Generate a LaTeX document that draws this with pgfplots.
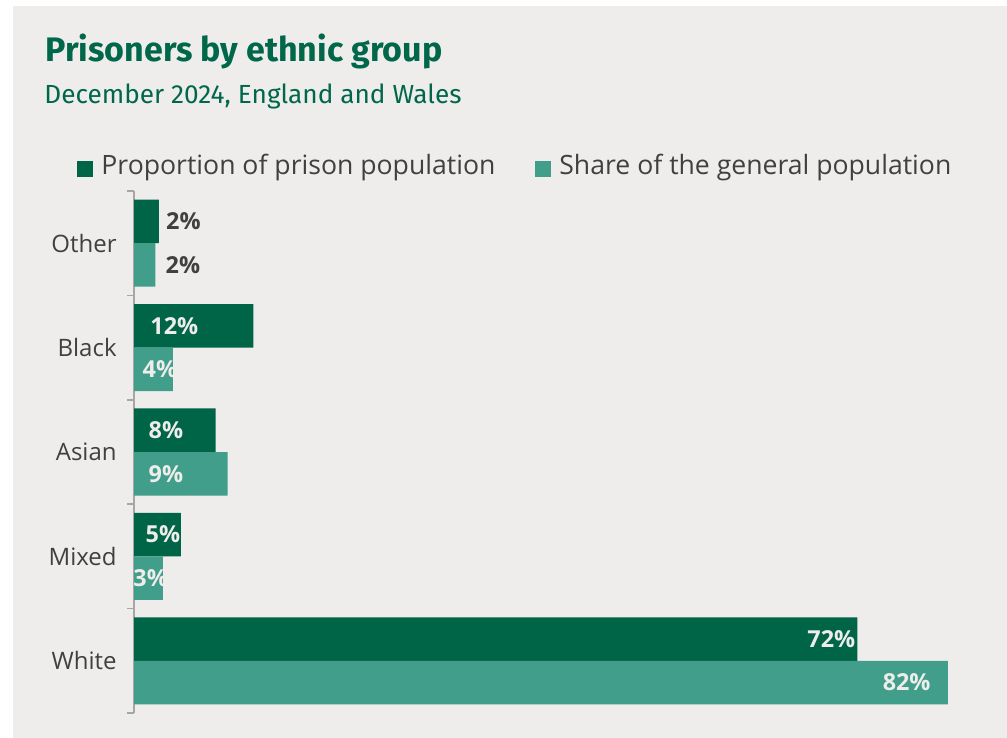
\documentclass[border=0pt]{standalone}
\usepackage{pgfplots}
\pgfplotsset{compat=1.18}
\usepackage{pgfplotstable}
\usepackage{fontspec}
\setmainfont{Open Sans}
\newfontfamily\titlefont{Fira Sans}
\definecolor{bgc}{HTML}{EEEDEB}
\definecolor{prison}{HTML}{006446}
\definecolor{general}{HTML}{419E8A}
\definecolor{titlegreen}{HTML}{00674A}
\definecolor{textgray}{HTML}{404040}
\definecolor{axisgray}{HTML}{A6A6A6}

% bar values (y: 0=White ... 4=Other)
\pgfplotstableread{
y x
4 2.5
3 12.0
2 8.2
1 4.7
0 72.7
}\prisontab
\pgfplotstableread{
y x
4 2.15
3 3.9
2 9.4
1 2.9
0 81.8
}\generaltab
% label positions (data units) and texts
\pgfplotstableread{
y x lab
4.2085 3.19 2
3.7915 3.15 2
}\labdark
\pgfplotstableread{
y x lab
3.2085 1.61 12
2.7915 0.83 4
2.2085 1.44 8
1.7915 1.44 9
1.2085 1.14 5
0.7915 -0.10 3
}\lablightw
\pgfplotstableread{
y x lab
0.2085 72.53 72
-0.2085 80.10 82
}\lablighte

\begin{document}
\begin{tikzpicture}
\useasboundingbox (0pt,0pt) rectangle (503.5pt,-369pt);
\fill[white] (0pt,0pt) rectangle (503.5pt,-369pt);
\fill[bgc] (6.5pt,-3pt) rectangle (503.5pt,-369pt);
\node[anchor=base west, inner sep=0pt, text=titlegreen, font=\titlefont\bfseries\fontsize{17}{20}\selectfont] at (22.5pt,-30.85pt) {Prisoners by ethnic group};
\node[anchor=base west, inner sep=0pt, text=titlegreen, font=\titlefont\fontsize{13.1}{15}\selectfont] at (22pt,-51.7pt) {December 2024, England and Wales};
\begin{axis}[
  at={(67pt,-356.5pt)}, anchor=south west,
  scale only axis,
  width=432.8pt, height=261pt,
  xmin=0, xmax=87, ymin=-0.5, ymax=4.5,
  axis x line=none,
  axis y line*=left,
  axis line style={draw=axisgray, line width=0.75pt},
  ytick={0,...,4},
  yticklabels={White,Mixed,Asian,Black,Other},
  major tick length=0pt,
  minor ytick={-0.5,0.5,...,4.5},
  minor tick length=3.5pt,
  tick align=outside,
  tick style={draw=axisgray, line width=0.75pt},
  yticklabel style={inner sep=0pt, xshift=-8.5pt, text=textgray, font=\fontsize{12}{14}\selectfont},
  clip=false,
  legend columns=2,
  legend style={at={(-0.0658,1.0479)}, anchor=west, draw=none, fill=none, inner sep=0pt,
    font=\fontsize{13.3}{15}\selectfont, text=textgray,
    /tikz/every odd column/.append style={column sep=2pt},
    /tikz/every even column/.append style={column sep=18pt}},
  legend image code/.code={\fill[#1] (0pt,-5.5pt) rectangle (8pt,2.5pt);},
  lbl/.style={draw=none, mark=none, forget plot, point meta=explicit symbolic,
    nodes near coords={\pgfplotspointmeta\%},
    every node near coord/.style={inner sep=0pt, font=\bfseries\fontsize{11.7}{13}\selectfont}},
]
\addplot[xbar, bar width=0.4167, bar shift=0.2085, fill=prison, draw=none]
  table[x=x, y=y] {\prisontab};
\addlegendentry{Proportion of prison population}
\addplot[xbar, bar width=0.4167, bar shift=-0.2085, fill=general, draw=none]
  table[x=x, y=y] {\generaltab};
\addlegendentry{Share of the general population}
\addplot[lbl, nodes near coords style={anchor=west, text=textgray}]
  table[x=x, y=y, meta=lab] {\labdark};
\addplot[lbl, nodes near coords style={anchor=west, text=bgc}]
  table[x=x, y=y, meta=lab] {\lablightw};
\addplot[lbl, nodes near coords style={anchor=east, text=bgc}]
  table[x=x, y=y, meta=lab] {\lablighte};
\end{axis}
\end{tikzpicture}
\end{document}
